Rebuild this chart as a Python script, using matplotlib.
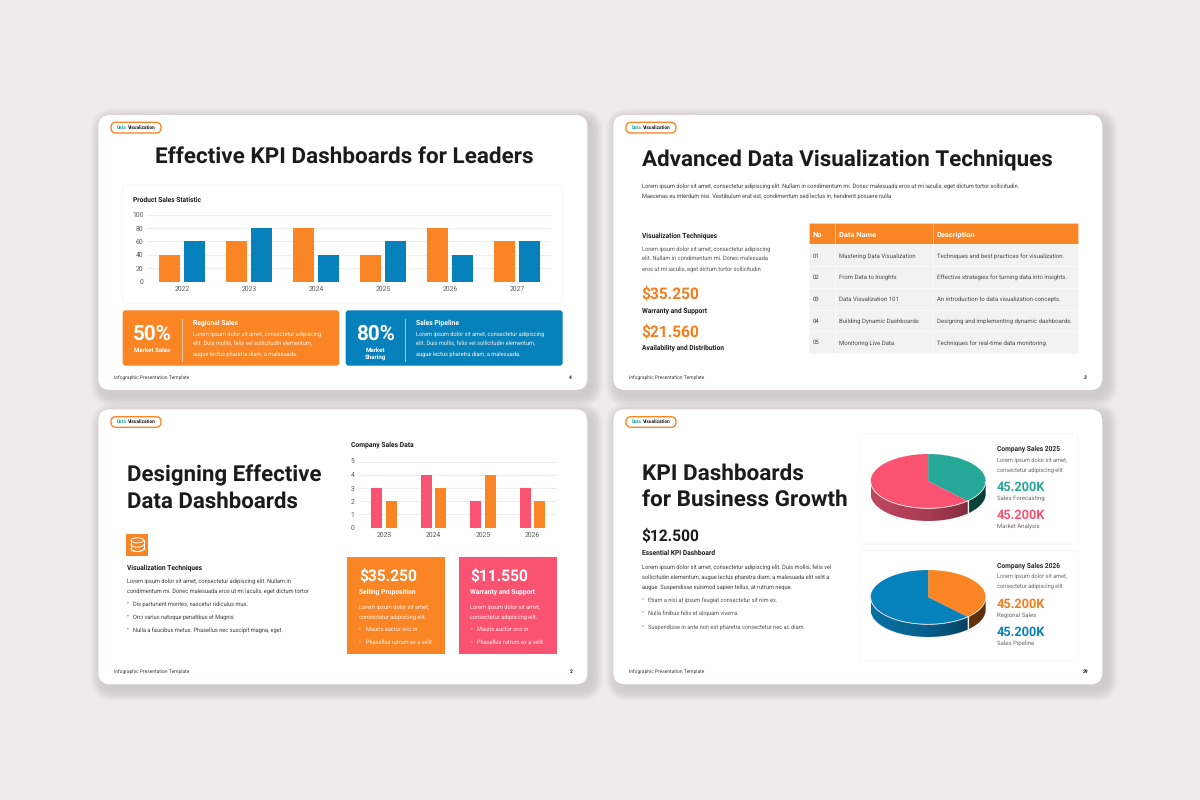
import numpy as np
import matplotlib
matplotlib.use("Agg")
import matplotlib.pyplot as plt
from matplotlib.patches import FancyBboxPatch, Rectangle, Ellipse, Polygon
from matplotlib.textpath import TextPath
from matplotlib.font_manager import FontProperties

plt.rcParams["text.hinting"] = "no_hinting"
plt.rcParams["text.hinting_factor"] = 8

# ---------- data ----------
years_a = ["2022", "2023", "2024", "2025", "2026", "2027"]
sales_orange = [40, 60, 80, 40, 80, 60]
sales_blue = [60, 80, 40, 60, 40, 60]
ticks_a = [0, 20, 40, 60, 80, 100]

years_b = ["2023", "2024", "2025", "2026"]
company_pink = [3, 4, 2, 3]
company_orange = [2, 3, 4, 2]
ticks_b = [0, 1, 2, 3, 4, 5]

pie_2025 = [38, 62]
pie_2026 = [38, 62]

table_head = ["No", "Data Name", "Description"]
table_no = ["01", "02", "03", "04", "05"]
table_name = ["Mastering Data Visualization", "From Data to Insights", "Data Visualization 101",
              "Building Dynamic Dashboards", "Monitoring Live Data"]
table_desc = ["Techniques and best practices for visualization.",
              "Effective strategies for turning data into insights.",
              "An introduction to data visualization concepts.",
              "Designing and implementing dynamic dashboards.",
              "Techniques for real-time data monitoring."]

# ---------- style ----------
BG = "#EFEBEC"
ORANGE = "#F98524"
BLUE = "#0781BB"
PINK = "#F95371"
TEAL = "#25A898"
DARK = "#1B1B1B"
BODY = "#565656"
FAM = "Roboto"
MID = 600

fig = plt.figure(figsize=(12, 8), dpi=100, facecolor=BG)
ax = fig.add_axes([0, 0, 1, 1])
ax.set_xlim(0, 1200)
ax.set_ylim(800, 0)
ax.axis("off")

S1, S2, S3, S4 = (95, 110), (610, 110), (95, 405), (610, 405)


def fit(s, zw, weight="normal"):
    """font size (pt) so that s is zw zoom-pixels wide"""
    fp = FontProperties(family=FAM, weight=weight)
    w = TextPath((0, 0), s, size=10, prop=fp).get_extents().width
    return 10 * (zw / 3 * 0.72) / w


def T(o, zx, zy, s, size, color=DARK, weight="normal", ha="left"):
    x = o[0] + zx / 3
    y = o[1] + zy / 3 + 0.355 * size / 0.72
    ax.text(x, y, s, fontsize=size, color=color, fontweight=weight, family=FAM,
            ha=ha, va="baseline", zorder=6)


def box(o, zx0, zy0, zx1, zy1, fc, ec="none", r=0, lw=0.0, z=3):
    x0, y0, x1, y1 = o[0] + zx0 / 3, o[1] + zy0 / 3, o[0] + zx1 / 3, o[1] + zy1 / 3
    if r:
        p = FancyBboxPatch((x0 + r, y0 + r), x1 - x0 - 2 * r, y1 - y0 - 2 * r,
                           boxstyle=f"round,pad={r},rounding_size={r}", fc=fc, ec=ec, lw=lw, zorder=z)
    else:
        p = Rectangle((x0, y0), x1 - x0, y1 - y0, fc=fc, ec=ec, lw=lw, zorder=z)
    ax.add_patch(p)


def vline(o, zx, zy0, zy1, color="#FFFFFF", lw=0.6, alpha=0.7):
    ax.plot([o[0] + zx / 3] * 2, [o[1] + zy0 / 3, o[1] + zy1 / 3], color=color, lw=lw, alpha=alpha, zorder=5)


def sub(o, zx0, zx1, zy_top, zy_bot):
    x0, x1 = o[0] + zx0 / 3, o[0] + zx1 / 3
    y0, y1 = o[1] + zy_top / 3, o[1] + zy_bot / 3
    a = fig.add_axes([x0 / 1200, 1 - y1 / 800, (x1 - x0) / 1200, (y1 - y0) / 800])
    a.patch.set_alpha(0)
    return a


# font classes
F_BODY = fit("Lorem ipsum dolor sit amet, consectetur adipiscing", 384)
F_HEAD = fit("Visualization Techniques", 225, "bold")
F_FOOT = fit("Infographic Presentation Template", 227)
F_PILL = fit("Data Visualization", 113, "bold")
F_PRICE = fit("$35.250", 170, MID)
F_KPI = fit("45.200K", 145, MID)
F_PCT = fit("50%", 111, MID)
F_TICK = fit("2022", 44)
F_ROW = fit(table_desc[0], 380)
F_THEAD = fit("Description", 113, "bold")
F_TITLE3 = fit("Designing Effective", 579, "bold")
F_TITLE4 = fit("for Business Growth", 612, "bold")

# ---------- slide frames ----------
pages = [(S1, "4", 1423), (S2, "3", 1423), (S3, "2", 1423), (S4, "29", 1418)]
for o, page, px in pages:
    dy = 0 if o[1] < 200 else -2
    x0, y0, x1, y1 = o[0] + 10 / 3, o[1] + (15 + dy) / 3, o[0] + 1477 / 3, o[1] + (840 + dy) / 3
    for i in range(20):
        g = 20 - i
        p = FancyBboxPatch((x0 + 4 + 12, y0 + 5 + 12), x1 - x0 - 24, y1 - y0 - 24,
                           boxstyle=f"round,pad={12 + g * 0.6},rounding_size={12 + g * 0.6}",
                           fc="#5A5658", ec="none", alpha=0.0065, zorder=1)
        ax.add_patch(p)
    ax.add_patch(FancyBboxPatch((x0 + 12, y0 + 12), x1 - x0 - 24, y1 - y0 - 24,
                                boxstyle="round,pad=12,rounding_size=12", fc="white", ec="none", zorder=2))
    box(o, 48, 37 + dy, 198, 69 + dy, "white", ec=ORANGE, r=5.2, lw=1.0, z=4)
    T(o, 66, 52 + dy, "Data", F_PILL, TEAL, "bold")
    T(o, 99, 52 + dy, "Visualization", F_PILL, DARK, "bold")
    T(o, 58, 801 + dy, "Infographic Presentation Template", F_FOOT, "#3A3A3A")
    T(o, px, 801 + dy, page, F_FOOT, DARK, "bold")

# ---------- slide 1 ----------
T(S1, 180, 134, "Effective KPI Dashboards for Leaders", fit("Effective KPI Dashboards for Leaders", 1127, "bold"), DARK, "bold")
box(S1, 82, 225, 1403, 580, "white", ec="#F9F8F8", r=4, lw=0.8)
T(S1, 114, 269, "Product Sales Statistic", fit("Product Sales Statistic", 204, "bold"), DARK, "bold")

a = sub(S1, 160, 1367, 314, 514.5)
xa = np.arange(len(years_a))
a.bar(xa - 0.1865, sales_orange, 0.31, color=ORANGE, zorder=3)
a.bar(xa + 0.1865, sales_blue, 0.31, color=BLUE, zorder=3)
a.set_xlim(-0.5, 5.5)
a.set_ylim(0, 100)
a.set_yticks(ticks_a)
a.set_xticks(xa, years_a)
a.grid(axis="y", color="#EEEEEE", lw=0.8)
a.set_axisbelow(True)
for s in a.spines.values():
    s.set_visible(False)
a.tick_params(length=0, labelsize=F_TICK, labelcolor="#5A5A5A")
a.tick_params(axis="y", pad=3.6)
a.tick_params(axis="x", pad=3.2)
for t in a.get_xticklabels() + a.get_yticklabels():
    t.set_family(FAM)

box(S1, 83, 601, 733, 767, ORANGE, r=3)
box(S1, 752, 601, 1403, 767, BLUE, r=3)
vline(S1, 262, 626, 752)
vline(S1, 931, 626, 752)
T(S1, 172, 668, "50%", F_PCT, "white", MID, "center")
T(S1, 172, 720, "Market Sales", fit("Market Sales", 106, "bold"), "white", "bold", "center")
T(S1, 841, 668, "80%", F_PCT, "white", MID, "center")
T(S1, 841, 720, "Market", fit("Market Sales", 106, "bold"), "white", "bold", "center")
T(S1, 841, 741, "Sharing", fit("Market Sales", 106, "bold"), "white", "bold", "center")
F_SUB = fit("Regional Sales", 134, "bold")
for ox, head in ((293, "Regional Sales"), (964, "Sales Pipeline")):
    T(S1, ox, 637, head, F_SUB, "white", "bold")
    T(S1, ox, 670, "Lorem ipsum dolor sit amet, consectetur adipiscing", F_BODY, "#FDEFE2")
    T(S1, ox, 700, "elit. Duis mollis, felis vel sollicitudin elementum,", F_BODY, "#FDEFE2")
    T(S1, ox, 731, "augue lectus pharetra diam, a malesuada.", F_BODY, "#FDEFE2")

# ---------- slide 2 ----------
T(S2, 95, 142, "Advanced Data Visualization Techniques", fit("Advanced Data Visualization Techniques", 1232, "bold"), DARK, "bold")
F_LONG = fit("Lorem ipsum dolor sit amet, consectetur adipiscing elit. Nullam in condimentum mi. Donec malesuada eros ut mi iaculis, eget dictum tortor sollicitudin.", 1123)
T(S2, 95, 227, "Lorem ipsum dolor sit amet, consectetur adipiscing elit. Nullam in condimentum mi. Donec malesuada eros ut mi iaculis, eget dictum tortor sollicitudin.", F_LONG, "#3F3F3F")
T(S2, 95, 257, "Maecenas eu interdum nisi. Vestibulum erat est, condimentum sed lectus in, hendrerit posuere nulla", F_LONG, "#3F3F3F")
T(S2, 95, 375, "Visualization Techniques", F_HEAD, DARK, "bold")
T(S2, 95, 415, "Lorem ipsum dolor sit amet, consectetur adipiscing", F_BODY, BODY)
T(S2, 95, 445, "elit. Nullam in condimentum mi. Donec malesuada", F_BODY, BODY)
T(S2, 95, 476, "eros ut mi iaculis, eget dictum tortor sollicitudin.", F_BODY, BODY)
T(S2, 95, 549, "$35.250", F_PRICE, "#F47D1E", MID)
T(S2, 95, 599, "Warranty and Support", F_HEAD, DARK, "bold")
T(S2, 95, 662, "$21.560", F_PRICE, "#F47D1E", MID)
T(S2, 95, 711, "Availability and Distribution", F_HEAD, DARK, "bold")

cols = [597, 675, 968, 1403]
text_x = [608, 686, 980]
top, hh, rh = 338, 65, 65.2
head_nudge = [39, 39, 33]
for c in range(3):
    box(S2, cols[c], top, cols[c + 1], top + hh, ORANGE, ec="#FBD9BC", lw=0.4)
    T(S2, text_x[c], top + head_nudge[c], table_head[c], F_THEAD, "white", "bold")
for r in range(5):
    yr = top + hh + r * rh
    for c in range(3):
        box(S2, cols[c], yr, cols[c + 1], yr + rh, "#F2F2F2", ec="#FAFAFA", lw=0.5)
    for c, col in enumerate((table_no, table_name, table_desc)):
        T(S2, text_x[c], yr + 33, col[r], F_ROW, "#4A4A4A")

# ---------- slide 3 ----------
T(S3, 95, 206, "Designing Effective", F_TITLE3, DARK, "bold")
T(S3, 95, 286, "Data Dashboards", F_TITLE3, DARK, "bold")
box(S3, 93, 387, 160, 452, ORANGE)
cx = S3[0] + 127 / 3
ytop, ybot = S3[1] + 406 / 3, S3[1] + 432 / 3
ax.add_patch(Ellipse((cx, ytop), 12.4, 5, fc="none", ec="white", lw=0.7, zorder=5))
tt = np.linspace(0, np.pi, 40)
for yy in (ytop + 4.3, ytop + 8.6, ybot):
    ax.plot(cx + 6.2 * np.cos(tt), yy + 2.5 * np.sin(tt), color="white", lw=0.7, zorder=5)
ax.plot([cx - 6.2] * 2, [ytop, ybot], color="white", lw=0.7, zorder=5)
ax.plot([cx + 6.2] * 2, [ytop, ybot], color="white", lw=0.7, zorder=5)

T(S3, 95, 488, "Visualization Techniques", F_HEAD, DARK, "bold")
T(S3, 95, 527, "Lorem ipsum dolor sit amet, consectetur adipiscing elit. Nullam in", F_BODY, "#3F3F3F")
T(S3, 95, 557, "condimentum mi. Donec malesuada eros ut mi iaculis, eget dictum tortor", F_BODY, "#3F3F3F")
for y, s in ((596, "Dis parturient montes, nascetur ridiculus mus."),
             (635, "Orci varius natoque penatibus et Magnis"),
             (675, "Nulla a faucibus metus. Phasellus nec suscipit magna, eget.")):
    T(S3, 94, y, "•", F_BODY, "#3F3F3F")
    T(S3, 115, y, s, F_BODY, "#3F3F3F")

T(S3, 768, 118, "Company Sales Data", fit("Company Sales Data", 186, "bold"), DARK, "bold")
b = sub(S3, 793, 1387, 170, 367.5)
xb = np.arange(len(years_b))
b.bar(xb - 0.146, company_pink, 0.223, color=PINK, zorder=3)
b.bar(xb + 0.146, company_orange, 0.223, color=ORANGE, zorder=3)
b.set_xlim(-0.5, 3.5)
b.set_ylim(0, 5)
b.set_yticks(ticks_b)
b.set_xticks(xb, years_b)
b.grid(axis="y", color="#EEEEEE", lw=0.8)
b.set_axisbelow(True)
for s in b.spines.values():
    s.set_visible(False)
b.tick_params(length=0, labelsize=F_TICK, labelcolor="#5A5A5A")
b.tick_params(axis="y", pad=3.6)
b.tick_params(axis="x", pad=3.2)
for t in b.get_xticklabels() + b.get_yticklabels():
    t.set_family(FAM)

for x0, col, price, head in ((757, ORANGE, "$35.250", "Selling Proposition"), (1092, PINK, "$11.550", "Warranty and Support")):
    box(S3, x0, 455, x0 + 293, 748, col)
    T(S3, x0 + 35, 509, price, F_PRICE, "white", MID)
    T(S3, x0 + 34, 558, head, F_HEAD, "white", "bold")
    T(S3, x0 + 34, 604, "Lorem ipsum dolor sit amet,", F_BODY, "#FFF1EC")
    T(S3, x0 + 34, 634, "consectetur adipiscing elit.", F_BODY, "#FFF1EC")
    T(S3, x0 + 34, 673, "•", F_BODY, "#FFF1EC")
    T(S3, x0 + 55, 673, "Mauris auctor orci in", F_BODY, "#FFF1EC")
    T(S3, x0 + 34, 712, "•", F_BODY, "#FFF1EC")
    T(S3, x0 + 55, 712, "Phasellus rutrum ex a velit", F_BODY, "#FFF1EC")

# ---------- slide 4 ----------
T(S4, 96, 199, "KPI Dashboards", F_TITLE4, DARK, "bold")
T(S4, 96, 279, "for Business Growth", F_TITLE4, DARK, "bold")
T(S4, 95, 389, "$12.500", F_PRICE, DARK, MID)
T(S4, 95, 444, "Essential KPI Dashboard", F_HEAD, DARK, "bold")
T(S4, 95, 485, "Lorem ipsum dolor sit amet, consectetur adipiscing elit. Duis mollis, felis vel", F_BODY, "#3F3F3F")
T(S4, 95, 515, "sollicitudin elementum, augue lectus pharetra diam, a malesuada elit velit a", F_BODY, "#3F3F3F")
T(S4, 95, 546, "augue. Suspendisse euismod sapien tellus, at rutrum neque.", F_BODY, "#3F3F3F")
for y, s in ((585, "Etiam a nisi at ipsum feugiat consectetur sit nim ex."),
             (624, "Nulla finibus felis et aliquam viverra."),
             (664, "Suspendisse in ante non est pharetra consectetur nec ac diam.")):
    T(S4, 94, y, "•", F_BODY, BODY)
    T(S4, 115, y, s, F_BODY, BODY)

box(S4, 750, 86, 1405, 417, "white", ec="#F9F8F8", r=4, lw=0.8)
box(S4, 750, 436, 1405, 767, "white", ec="#F9F8F8", r=4, lw=0.8)


def pie3d(zy_top, values, colors, side_ramps):
    depth = 38 / 81.5
    p = sub(S4, 782, 1127, zy_top, zy_top + 163 + 38)
    wedges, _ = p.pie(values, colors=colors, startangle=90, counterclock=False, radius=1,
                      wedgeprops={"lw": 0, "zorder": 5})
    p.set_aspect("auto")
    for w in wedges:
        w.set_clip_on(False)
    total = float(sum(values))
    start = np.pi / 2
    for v, ramp in zip(values, side_ramps):
        end = start - 2 * np.pi * v / total
        # visible (front) part of the wedge side
        th = np.linspace(start, end, 300)
        th = th[np.sin(th) <= 0.0]
        xs, ys = np.cos(th), np.sin(th)
        poly = Polygon(np.column_stack([np.r_[xs, xs[::-1]], np.r_[ys, ys[::-1] - depth]]),
                       transform=p.transData, fc="none", ec="none")
        p.add_patch(poly)
        rgb = np.array([matplotlib.colors.to_rgb(c) for c in ramp])
        grad = np.stack([np.interp(np.linspace(0, 1, 200), np.linspace(0, 1, len(ramp)), rgb[:, k])
                         for k in range(3)], axis=-1)[None, :, :]
        im = p.imshow(grad, extent=(-1, 1, -1 - depth, 1), aspect="auto", zorder=2)
        im.set_clip_path(poly)
        p.plot(xs, ys, color="#F3E9EA", lw=0.6, zorder=6, clip_on=False)
        start = end
    # seam between the two wedge sides
    seam = np.pi / 2 - 2 * np.pi * values[0] / total
    p.plot([np.cos(seam)] * 2, [np.sin(seam), np.sin(seam) - depth], color="#F0F0F0", lw=0.8, zorder=6)
    p.set_xlim(-1, 1)
    p.set_ylim(-1 - depth, 1)
    p.axis("off")


pie3d(147, pie_2025, [TEAL, PINK],
      [["#0F5A4F", "#0C4C44", "#0A4038"], ["#C04A62", "#B34058", "#A83C52", "#8E3145", "#6A2230"]])
pie3d(495, pie_2026, [ORANGE, BLUE],
      [["#8F4E10", "#74400D", "#5A300A"], ["#0A6FA3", "#096898", "#075E8A", "#064A6E", "#04324B"]])

F_CS = fit("Company Sales 2025", 189, "bold")
F_SM = fit("Sales Forecasting", 142)
for dy, head, lab1, col1, lab2, col2 in ((0, "Company Sales 2025", "Sales Forecasting", TEAL, "Market Analysis", PINK),
                                        (349.5, "Company Sales 2026", "Regional Sales", "#F47D1E", "Sales Pipeline", "#0781BB")):
    T(S4, 1160, 130 + dy, head, F_CS, "#2A2A2A", "bold")
    T(S4, 1160, 163 + dy, "Lorem ipsum dolor sit amet,", F_BODY, "#6A6A6A")
    T(S4, 1160, 193 + dy, "consectetur adipiscing elit", F_BODY, "#6A6A6A")
    T(S4, 1160, 244 + dy, "45.200K", F_KPI, col1, MID)
    T(S4, 1160, 279 + dy, lab1, F_SM, "#6A6A6A")
    T(S4, 1160, 329 + dy, "45.200K", F_KPI, col2, MID)
    T(S4, 1160, 363 + dy, lab2, F_SM, "#6A6A6A")

fig.savefig("out.png", dpi=100, facecolor=BG)
